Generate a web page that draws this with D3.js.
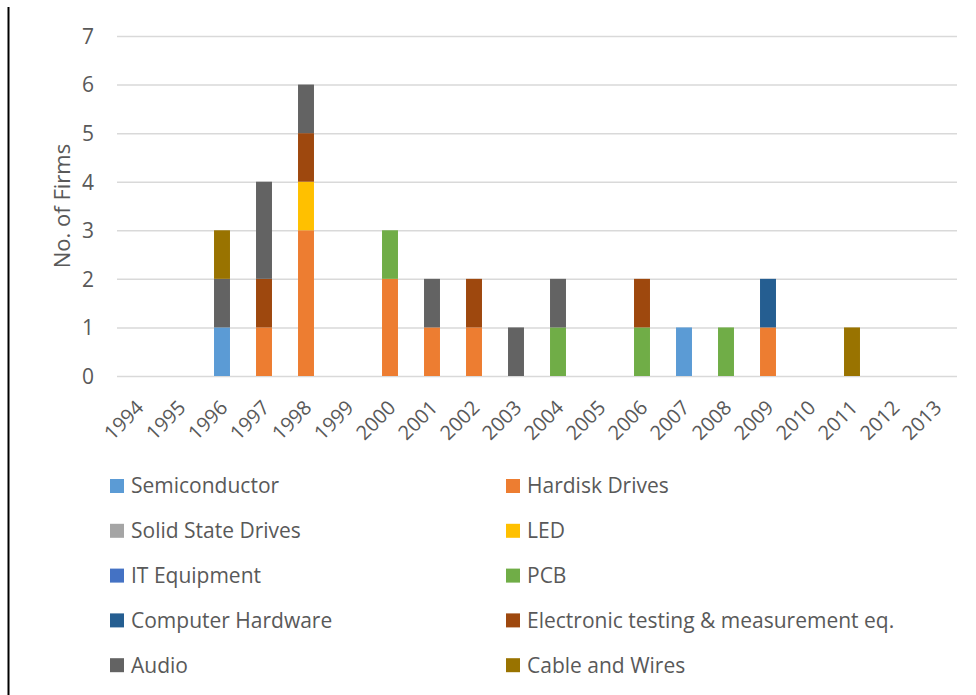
<!DOCTYPE html>
<html>
<head>
<meta charset="utf-8">
<script src="https://cdn.jsdelivr.net/npm/d3@7"></script>
<style>
  html, body { margin: 0; padding: 0; background: #fff; }
  svg { display: block; }
  text { font-family: "Open Sans", "Noto Sans", sans-serif; fill: #595959; }
</style>
</head>
<body>
<svg id="chart" width="976" height="695"></svg>
<script>
// Years on the category axis
const years = ["1994","1995","1996","1997","1998","1999","2000","2001","2002","2003",
               "2004","2005","2006","2007","2008","2009","2010","2011","2012","2013"];

// Industry series, in stacking order (bottom to top)
const seriesNames = ["Semiconductor","Hardisk Drives","Solid State Drives","LED","IT Equipment",
                     "PCB","Computer Hardware","Electronic testing & measurement eq.","Audio","Cable and Wires"];
const seriesColors = ["#5B9BD5","#ED7D31","#A5A5A5","#FFC000","#4472C4",
                      "#70AD47","#255E91","#9E480E","#636363","#997300"];

// Number of firms per year, one array per series (aligned with years)
const semiconductor     = [0,0,1,0,0,0,0,0,0,0,0,0,0,1,0,0,0,0,0,0];
const hardiskDrives     = [0,0,0,1,3,0,2,1,1,0,0,0,0,0,0,1,0,0,0,0];
const solidStateDrives  = [0,0,0,0,0,0,0,0,0,0,0,0,0,0,0,0,0,0,0,0];
const led               = [0,0,0,0,1,0,0,0,0,0,0,0,0,0,0,0,0,0,0,0];
const itEquipment       = [0,0,0,0,0,0,0,0,0,0,0,0,0,0,0,0,0,0,0,0];
const pcb               = [0,0,0,0,0,0,1,0,0,0,1,0,1,0,1,0,0,0,0,0];
const computerHardware  = [0,0,0,0,0,0,0,0,0,0,0,0,0,0,0,1,0,0,0,0];
const electronicTesting = [0,0,0,1,1,0,0,0,1,0,0,0,1,0,0,0,0,0,0,0];
const audio             = [0,0,1,2,1,0,0,1,0,1,1,0,0,0,0,0,0,0,0,0];
const cableWires        = [0,0,1,0,0,0,0,0,0,0,0,0,0,0,0,0,0,1,0,0];

const yTicks = [0,1,2,3,4,5,6,7];

const seriesValues = [semiconductor, hardiskDrives, solidStateDrives, led, itEquipment,
                      pcb, computerHardware, electronicTesting, audio, cableWires];

// Table for d3.stack: one row per year
const rows = years.map((y, i) => {
  const r = { year: y };
  seriesNames.forEach((n, k) => { r[n] = seriesValues[k][i]; });
  return r;
});
const stacked = d3.stack().keys(seriesNames)(rows);

const svg = d3.select("#chart");

// Plot area
const plot = { left: 117, right: 957, top: 36, bottom: 376 };

const x = d3.scaleBand().domain(years).range([plot.left, plot.right]).paddingInner(0.62).paddingOuter(0.31);
const y = d3.scaleLinear().domain([0, 7]).range([plot.bottom, plot.top]);
const color = d3.scaleOrdinal().domain(seriesNames).range(seriesColors);

// Frame line at the left edge
svg.append("line")
  .attr("x1", 8.5).attr("x2", 8.5).attr("y1", 7).attr("y2", 695)
  .attr("stroke", "#000").attr("stroke-width", 2);

// Horizontal gridlines and value labels
const yAxis = d3.axisLeft(y).tickValues(yTicks).tickFormat(d3.format("d"))
  .tickSize(-(plot.right - plot.left)).tickPadding(23);
const gy = svg.append("g").attr("transform", `translate(${plot.left},0)`).call(yAxis);
gy.select(".domain").remove();
gy.selectAll(".tick line").attr("stroke", "#D9D9D9").attr("stroke-width", 1.5);
gy.selectAll(".tick text")
  .style("font-size", "21px").style("font-family", "'Open Sans', sans-serif")
  .attr("fill", "#595959").attr("dy", "0.35em");

// Stacked bars
svg.append("g").selectAll("g")
  .data(stacked)
  .join("g")
  .attr("fill", d => color(d.key))
  .selectAll("rect")
  .data(d => d.filter(s => s[1] - s[0] > 0))
  .join("rect")
  .attr("x", d => x(d.data.year))
  .attr("width", x.bandwidth())
  .attr("y", d => y(d[1]))
  .attr("height", d => y(d[0]) - y(d[1]));

// Year labels, rotated
const xAxis = d3.axisBottom(x).tickSize(0).tickPadding(0);
const gx = svg.append("g").attr("transform", `translate(0,${plot.bottom})`).call(xAxis);
gx.select(".domain").remove();
gx.selectAll(".tick text")
  .style("font-size", "20px").style("font-family", "'Open Sans', sans-serif")
  .attr("fill", "#595959")
  .attr("text-anchor", "end")
  .attr("transform", "translate(2,28) rotate(-45)")
  .attr("dy", "0.35em");

// Axis title
svg.append("text")
  .attr("transform", `translate(70,${(plot.top + plot.bottom) / 2}) rotate(-90)`)
  .attr("text-anchor", "middle")
  .style("font-size", "22px")
  .text("No. of Firms");

// Legend, two columns filled row by row
const legendCols = [110, 506];
const legendTop = 486;
const legendStep = 44.8;
const legend = svg.append("g").selectAll("g")
  .data(seriesNames)
  .join("g")
  .attr("transform", (d, i) => `translate(${legendCols[i % 2]},${legendTop + Math.floor(i / 2) * legendStep})`);
legend.append("rect")
  .attr("x", 0).attr("y", -7).attr("width", 14).attr("height", 14)
  .attr("fill", d => color(d));
legend.append("text")
  .attr("x", 21).attr("y", 0).attr("dy", "0.35em")
  .style("font-size", "21px")
  .text(d => d);
</script>
</body>
</html>
